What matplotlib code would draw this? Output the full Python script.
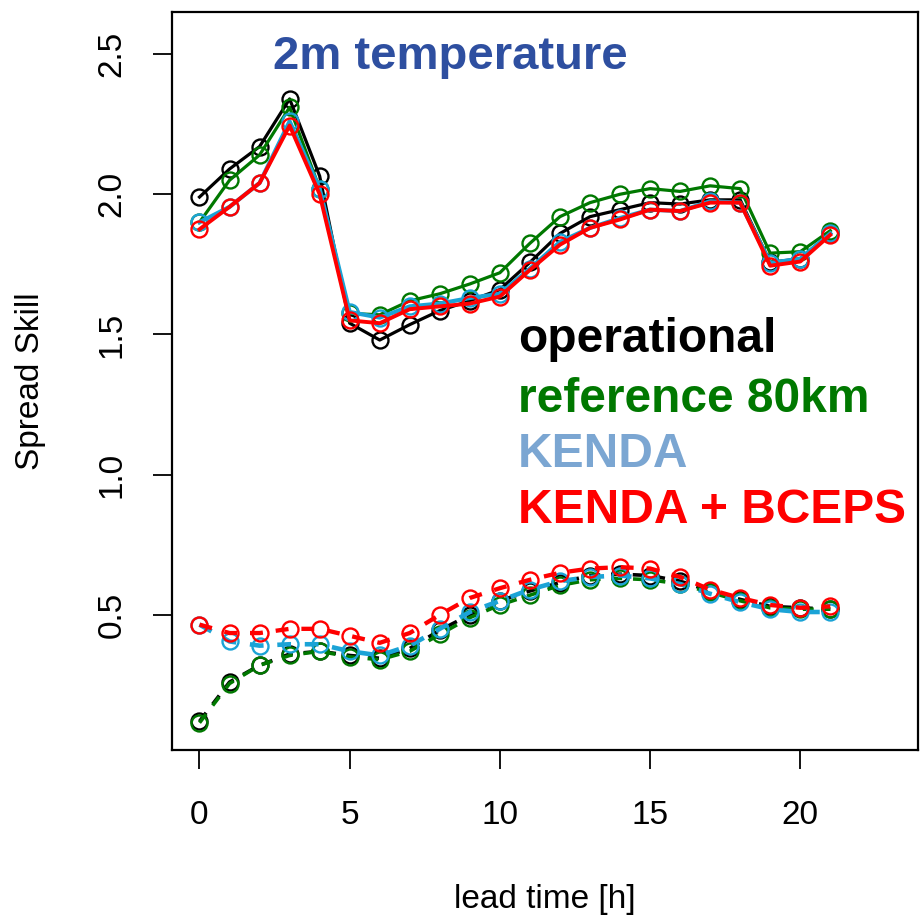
import matplotlib
matplotlib.use("Agg")
import matplotlib.pyplot as plt
import numpy as np

plt.rcParams['font.family'] = ['Liberation Sans', 'DejaVu Sans']

lead_time = list(range(22))

# Spread (upper, solid) and Skill (lower, dashed) curves
operational_top = [1.99, 2.09, 2.17, 2.34, 2.065, 1.54, 1.48, 1.535, 1.585, 1.62, 1.66, 1.757,
                   1.86, 1.92, 1.945, 1.97, 1.965, 1.98, 1.98, 1.757, 1.77, 1.86]
reference_top = [1.90, 2.05, 2.14, 2.31, 2.02, 1.575, 1.57, 1.62, 1.645, 1.68, 1.72, 1.825,
                 1.92, 1.97, 2.00, 2.02, 2.01, 2.03, 2.02, 1.79, 1.795, 1.87]
kenda_top = [1.90, 1.955, 2.04, 2.26, 2.02, 1.58, 1.56, 1.60, 1.61, 1.63, 1.645, 1.735,
             1.83, 1.88, 1.915, 1.945, 1.94, 1.975, 1.97, 1.755, 1.77, 1.86]
bceps_top = [1.875, 1.955, 2.04, 2.245, 2.00, 1.55, 1.54, 1.59, 1.60, 1.61, 1.635, 1.73,
             1.82, 1.88, 1.91, 1.945, 1.94, 1.97, 1.97, 1.745, 1.76, 1.855]

operational_bot = [0.12, 0.26, 0.32, 0.36, 0.37, 0.355, 0.345, 0.38, 0.445, 0.50, 0.55, 0.585,
                   0.615, 0.64, 0.645, 0.64, 0.62, 0.585, 0.555, 0.53, 0.525, 0.52]
reference_bot = [0.115, 0.255, 0.32, 0.355, 0.37, 0.35, 0.34, 0.37, 0.43, 0.49, 0.535, 0.57,
                 0.605, 0.625, 0.63, 0.625, 0.61, 0.58, 0.55, 0.525, 0.52, 0.52]
kenda_bot = [0.465, 0.405, 0.39, 0.395, 0.395, 0.37, 0.355, 0.39, 0.45, 0.51, 0.55, 0.59,
             0.62, 0.635, 0.64, 0.63, 0.61, 0.575, 0.545, 0.52, 0.51, 0.51]
bceps_bot = [0.465, 0.435, 0.435, 0.45, 0.45, 0.425, 0.40, 0.435, 0.50, 0.56, 0.595, 0.625,
             0.65, 0.665, 0.67, 0.665, 0.635, 0.59, 0.56, 0.535, 0.525, 0.53]

series_names = ["operational", "reference 80km", "KENDA", "KENDA + BCEPS"]
line_colors = ["black", "#007800", "#1BA3D6", "#FF0000"]
text_colors = ["black", "#007800", "#7BA6D2", "#FF0000"]
line_widths = [2.3, 2.3, 3.0, 2.8]
tops = [operational_top, reference_top, kenda_top, bceps_top]
bots = [operational_bot, reference_bot, kenda_bot, bceps_bot]

fig = plt.figure(figsize=(9.24, 9.22), dpi=100)
ax = fig.add_axes([0.186, 0.1866, 0.8075, 0.8004])

for top, bot, c, lw in zip(tops, bots, line_colors, line_widths):
    ax.plot(lead_time, top, color=c, lw=lw, marker='o', markersize=11.5,
            markerfacecolor='none', markeredgecolor=c, markeredgewidth=1.7)
    ax.plot(lead_time, bot, color=c, lw=lw + 0.3, ls=(0, (3, 3)), marker='o', markersize=11.5,
            markerfacecolor='none', markeredgecolor=c, markeredgewidth=1.7)

ax.set_xlim(-0.92, 23.92)
ax.set_ylim(0.018, 2.65)
ax.set_xticks([0, 5, 10, 15, 20])
ax.set_yticks([0.5, 1.0, 1.5, 2.0, 2.5])
ax.set_yticklabels(["0.5", "1.0", "1.5", "2.0", "2.5"], rotation=90, va='center')
ax.tick_params(axis='both', labelsize=24, length=14, width=1.3)
ax.tick_params(axis='y', pad=18)
ax.tick_params(axis='x', pad=22)
for s in ax.spines.values():
    s.set_linewidth(1.6)

ax.set_xlabel("lead time [h]", fontsize=24, labelpad=38)
ax.set_ylabel("Spread Skill", fontsize=24, labelpad=36)

fig.text(450 / 924, 1 - 57 / 922, "2m temperature", fontsize=34, fontweight='bold',
         color="#2E4FA0", ha='center', va='center')
ys = [340, 399, 454, 510]
for name, c, y in zip(series_names, text_colors, ys):
    fig.text(518 / 924, 1 - y / 922, name, fontsize=34.5,
             fontweight='bold', color=c, ha='left', va='center')

fig.savefig("out.png", dpi=100)
